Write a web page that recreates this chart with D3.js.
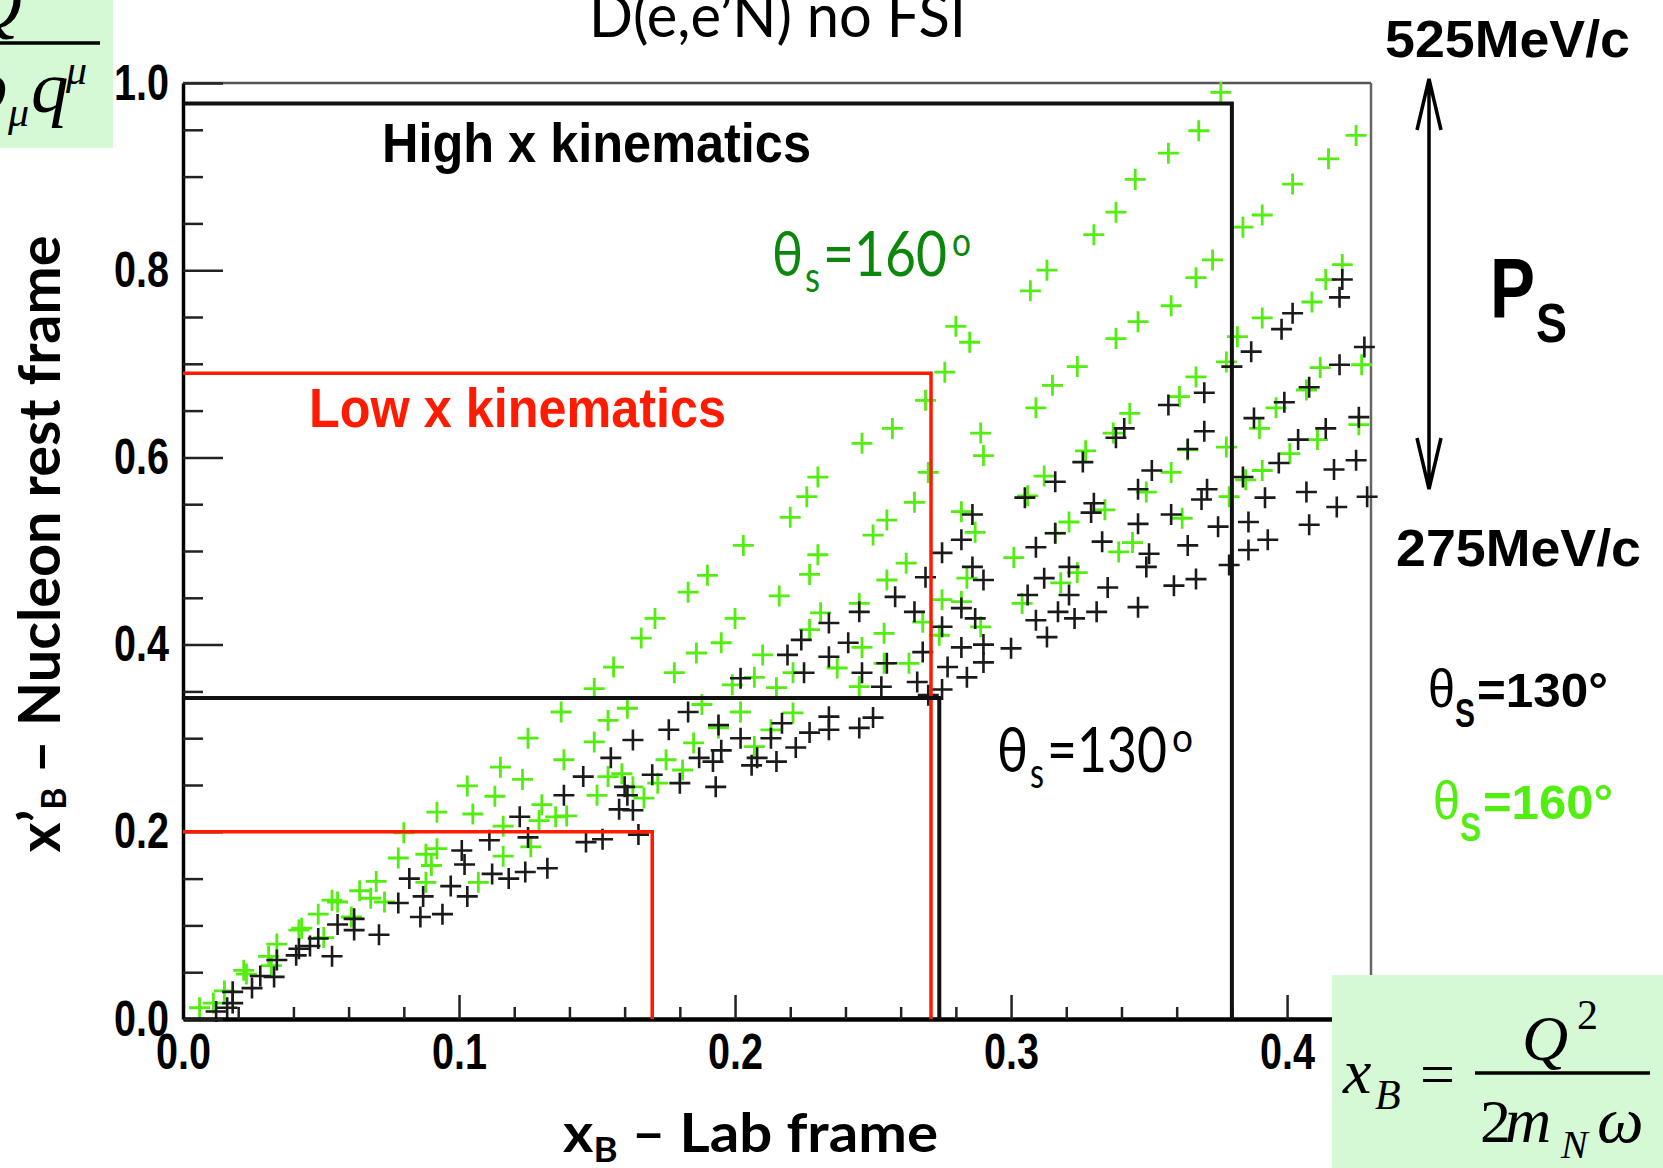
<!DOCTYPE html>
<html>
<head>
<meta charset="utf-8">
<script src="https://cdn.jsdelivr.net/npm/d3@7"></script>
<style>
  body { margin: 0; background: #fff; }
  svg { display: block; }
</style>
</head>
<body>
<div id="chart"></div>
<script>
// x'_B (nucleon rest frame) vs x_B (lab frame), D(e,e'N) no FSI
// tick values
const xMajor = [0, 0.1, 0.2, 0.3, 0.4];
const xMinor = [0.02, 0.04, 0.06, 0.08, 0.12, 0.14, 0.16, 0.18, 0.22, 0.24, 0.26, 0.28, 0.32, 0.34, 0.36, 0.38, 0.42];
const yMajor = [0, 0.2, 0.4, 0.6, 0.8, 1.0];
const yMinor = [0.05, 0.1, 0.15, 0.25, 0.3, 0.35, 0.45, 0.5, 0.55, 0.65, 0.7, 0.75, 0.85, 0.9, 0.95];

// kinematic cuts [x_B limit, x'_B limit]
const lowXCuts = [[0.17, 0.20], [0.271, 0.69]];
const highXCuts = [[0.274, 0.343], [0.38, 0.978]];

// theta_s = 130 deg (black crosses)
const theta130 = [
  [0.420,0.790],[0.419,0.771],[0.402,0.754],[0.398,0.737],[0.387,0.713],[0.380,0.697],[0.370,0.669],[0.357,0.656],
  [0.370,0.628],[0.341,0.631],[0.338,0.621],[0.326,0.595],[0.316,0.574],[0.305,0.557],[0.364,0.609],[0.351,0.586],
  [0.346,0.566],[0.330,0.551],[0.329,0.541],[0.371,0.566],[0.369,0.555],[0.358,0.539],[0.346,0.529],[0.333,0.510],
  [0.316,0.519],[0.309,0.504],[0.375,0.526],[0.364,0.506],[0.350,0.497],[0.349,0.483],[0.367,0.470],[0.359,0.463],
  [0.335,0.461],[0.321,0.483],[0.312,0.471],[0.286,0.539],[0.282,0.512],[0.290,0.469],
  [0.428,0.718],[0.419,0.699],[0.408,0.675],[0.399,0.659],[0.388,0.642],[0.414,0.631],[0.404,0.619],[0.397,0.594],
  [0.426,0.643],[0.425,0.597],[0.417,0.587],[0.407,0.563],[0.392,0.557],[0.384,0.579],[0.386,0.531],[0.429,0.558],
  [0.418,0.547],[0.408,0.528],[0.393,0.512],[0.386,0.501],[0.379,0.485],
  [0.275,0.498],[0.269,0.472],[0.286,0.483],[0.258,0.451],[0.306,0.453],[0.321,0.453],[0.331,0.435],[0.323,0.428],
  [0.317,0.435],[0.309,0.426],[0.313,0.408],[0.346,0.440],[0.282,0.439],[0.287,0.428],[0.282,0.397],[0.290,0.400],
  [0.290,0.381],[0.284,0.365],[0.300,0.396],[0.265,0.435],[0.275,0.419],[0.245,0.435],[0.234,0.423],[0.268,0.392],
  [0.277,0.376],[0.266,0.360],[0.275,0.352],[0.255,0.380],[0.241,0.402],[0.234,0.387],[0.224,0.405],[0.219,0.389],
  [0.202,0.364],[0.225,0.370],[0.246,0.370],[0.253,0.355],[0.250,0.322],[0.245,0.311],[0.234,0.323],[0.234,0.309],
  [0.227,0.306],[0.222,0.290],[0.217,0.316],[0.213,0.300],[0.215,0.275],[0.208,0.279],[0.206,0.271],[0.202,0.300],
  [0.195,0.287],[0.194,0.314],[0.192,0.275],[0.193,0.248],[0.187,0.279],[0.183,0.328],[0.176,0.309],[0.163,0.298],
  [0.155,0.279],[0.170,0.261],[0.180,0.252],[0.160,0.248],[0.145,0.259],[0.138,0.239],[0.122,0.216],[0.111,0.191],
  [0.125,0.194],[0.146,0.189],[0.152,0.192],[0.165,0.197],[0.158,0.224],[0.161,0.239],[0.163,0.223],[0.132,0.161],
  [0.124,0.157],[0.118,0.150],[0.112,0.155],[0.101,0.180],[0.102,0.165],[0.103,0.131],[0.097,0.142],[0.094,0.112],
  [0.086,0.109],[0.087,0.131],[0.082,0.150],[0.078,0.124],[0.071,0.090],[0.062,0.095],[0.054,0.067],[0.046,0.078],
  [0.033,0.045],[0.025,0.033],[0.018,0.017],[0.012,0.008],[0.041,0.068],[0.270,0.346],[0.016,0.012],
  [0.018,0.029],[0.028,0.046],[0.034,0.063],[0.042,0.075],[0.049,0.086],[0.056,0.101],[0.062,0.107]
];

// theta_s = 160 deg (green crosses)
const theta160 = [
  [0.376,0.990],[0.368,0.949],[0.357,0.925],[0.345,0.897],[0.338,0.862],[0.330,0.838],[0.313,0.800],[0.307,0.778],
  [0.285,0.723],[0.280,0.740],[0.276,0.691],[0.269,0.661],[0.257,0.631],[0.246,0.615],[0.230,0.579],[0.226,0.558],
  [0.220,0.536],[0.203,0.506],[0.190,0.474],[0.183,0.456],[0.171,0.428],[0.166,0.407],[0.156,0.376],[0.149,0.353],
  [0.137,0.328],[0.125,0.300],[0.115,0.269],[0.103,0.249],[0.092,0.221],[0.080,0.199],[0.078,0.172],[0.070,0.147],
  [0.054,0.127],[0.042,0.095],[0.031,0.067],[0.023,0.048],[0.015,0.030],[0.011,0.017],
  [0.425,0.944],[0.415,0.919],[0.402,0.892],[0.391,0.859],[0.384,0.846],
  [0.420,0.806],[0.414,0.790],[0.409,0.766],[0.391,0.749],[0.382,0.729],[0.373,0.811],[0.367,0.792],[0.358,0.762],
  [0.346,0.745],[0.338,0.727],[0.324,0.697],[0.315,0.677],[0.309,0.653],[0.289,0.626],[0.290,0.602],[0.270,0.584],
  [0.265,0.552],[0.255,0.533],[0.250,0.517],[0.230,0.496],[0.227,0.475],[0.216,0.452],[0.200,0.428],[0.195,0.402],
  [0.186,0.391],[0.178,0.370],
  [0.427,0.699],[0.412,0.696],[0.407,0.672],[0.396,0.653],[0.390,0.631],[0.378,0.702],[0.367,0.686],[0.361,0.665],
  [0.343,0.647],[0.337,0.626],[0.327,0.607],[0.312,0.580],[0.306,0.559],[0.282,0.542],[0.287,0.520],[0.262,0.487],
  [0.255,0.469],[0.245,0.444],[0.231,0.434],[0.227,0.416],[0.210,0.389],[0.207,0.365],[0.199,0.357],[0.188,0.336],
  [0.426,0.635],[0.411,0.619],[0.401,0.604],[0.391,0.586],[0.385,0.576],[0.378,0.611],[0.364,0.608],[0.358,0.584],
  [0.349,0.563],[0.334,0.544],[0.321,0.531],[0.316,0.519],[0.301,0.493],[0.362,0.535],[0.379,0.558],[0.344,0.509],
  [0.339,0.499],[0.284,0.471],[0.275,0.448],[0.268,0.424],[0.274,0.410],[0.289,0.419],[0.254,0.412],[0.246,0.397],
  [0.237,0.375],[0.254,0.380],[0.263,0.380],[0.245,0.355],[0.221,0.327],[0.221,0.370],[0.215,0.354],[0.213,0.309],
  [0.207,0.291],[0.202,0.328],[0.194,0.311],[0.185,0.295],[0.175,0.277],[0.181,0.266],[0.172,0.252],[0.163,0.248],
  [0.154,0.259],[0.161,0.332],[0.154,0.319],
  [0.324,0.477],[0.318,0.466],[0.304,0.444],[0.282,0.446],
  [0.149,0.296],[0.138,0.277],[0.123,0.256],[0.113,0.238],[0.105,0.219],[0.092,0.182],[0.090,0.164],[0.088,0.146],
  [0.068,0.129],[0.061,0.109],[0.051,0.087],[0.032,0.057],[0.130,0.229],[0.135,0.216],[0.139,0.217],[0.129,0.212],
  [0.150,0.239],[0.167,0.236],[0.116,0.206],[0.116,0.174],[0.107,0.146],[0.088,0.176],[0.073,0.125],[0.126,0.184],
  [0.159,0.262],[0.006,0.012],
  [0.022,0.052],[0.034,0.080],[0.043,0.097],[0.049,0.112],[0.056,0.125],[0.064,0.137]
];

const W = 1663, H = 1168;
const svg = d3.select("#chart").append("svg")
    .attr("width", W)
    .attr("height", H);
svg.append("rect").attr("width", W).attr("height", H).attr("fill", "#fff");

const x = d3.scaleLinear().domain([0, 0.4304]).range([183, 1371]);
const y = d3.scaleLinear().domain([0, 1]).range([1019, 83]);

// small helper for positioned text pieces
function txt(t, px, py, size, w, o = {}) {
  const el = svg.append("text")
      .attr("x", px).attr("y", py)
      .attr("font-family", o.family || "Liberation Sans")
      .attr("font-weight", o.weight || "bold")
      .attr("font-style", o.style || "normal")
      .attr("font-size", size)
      .attr("fill", o.fill || "#000")
      .text(t);
  if (w) el.attr("textLength", w).attr("lengthAdjust", "spacingAndGlyphs");
  return el;
}

// frame (top / right)
svg.append("line")
    .attr("x1", x(0)).attr("x2", x(0.4304)).attr("y1", y(1)).attr("y2", y(1))
    .attr("stroke", "#555").attr("stroke-width", 2.5);
svg.append("line")
    .attr("x1", x(0.4304)).attr("x2", x(0.4304)).attr("y1", y(1)).attr("y2", y(0))
    .attr("stroke", "#666").attr("stroke-width", 2.5);

// scatter crosses
const cross = d => `M${x(d[0]) - 10.5},${y(d[1])}h21M${x(d[0])},${y(d[1]) - 10.5}v21`;
svg.append("g").selectAll("path")
    .data(theta160)
    .join("path")
    .attr("d", cross)
    .attr("stroke", "#52ee10")
    .attr("stroke-width", 2.8)
    .attr("fill", "none");
svg.append("g").selectAll("path")
    .data(theta130)
    .join("path")
    .attr("d", cross)
    .attr("stroke", "#1a1a1a")
    .attr("stroke-width", 2.6)
    .attr("fill", "none");

// axes
const xAxisG = svg.append("g")
    .attr("transform", `translate(0,${y(0)})`)
    .call(d3.axisBottom(x).tickValues(xMajor).tickSize(-24).tickSizeOuter(0)
      .tickPadding(14).tickFormat(d3.format(".1f")));
svg.append("g")
    .attr("transform", `translate(0,${y(0)})`)
    .call(d3.axisBottom(x).tickValues(xMinor).tickSize(-12).tickSizeOuter(0).tickFormat(""))
    .call(g => g.select(".domain").remove());
xAxisG.select(".domain").attr("stroke", "#000").attr("stroke-width", 4.5);

const yAxisG = svg.append("g")
    .attr("transform", `translate(${x(0)},0)`)
    .call(d3.axisLeft(y).tickValues(yMajor).tickSize(-40).tickSizeOuter(0)
      .tickPadding(14).tickFormat(d3.format(".1f")));
svg.append("g")
    .attr("transform", `translate(${x(0)},0)`)
    .call(d3.axisLeft(y).tickValues(yMinor).tickSize(-20).tickSizeOuter(0).tickFormat(""))
    .call(g => g.select(".domain").remove());
yAxisG.select(".domain").attr("stroke", "#000").attr("stroke-width", 3.5);

svg.selectAll(".tick line").attr("stroke", "#222").attr("stroke-width", 2.5);
svg.selectAll(".tick text")
    .attr("font-family", "Liberation Sans")
    .attr("font-weight", "bold")
    .attr("font-size", 50)
    .attr("fill", "#000")
    .attr("textLength", 55)
    .attr("lengthAdjust", "spacingAndGlyphs");

// kinematic cut boxes
const cutPath = d => `M${x(0)},${y(d[1])}H${x(d[0])}V${y(0)}`;
svg.append("g").selectAll("path")
    .data(lowXCuts)
    .join("path")
    .attr("d", cutPath)
    .attr("fill", "none")
    .attr("stroke", "#ff1a00")
    .attr("stroke-width", 3.5);
svg.append("g").selectAll("path")
    .data(highXCuts)
    .join("path")
    .attr("d", cutPath)
    .attr("fill", "none")
    .attr("stroke", "#111")
    .attr("stroke-width", 4);

// in-plot labels
txt("High x kinematics", 382, 162, 56, 429);
txt("Low x kinematics", 309, 427, 56, 417, { fill: "#ff1a00" });

const dkGreen = "#0b870b";
txt("θ", 772, 276, 62, 31, { family: "Lato", weight: "normal", fill: dkGreen });
txt("s", 805, 292, 42, 15, { family: "Lato", weight: "normal", fill: dkGreen });
txt("=160", 823, 276, 62, 124, { family: "Lato", weight: "normal", fill: dkGreen });
txt("o", 952, 256, 40, 19, { family: "Lato", weight: "normal", fill: dkGreen });

txt("θ", 997, 772, 62, 31, { family: "Lato", weight: "normal" });
txt("s", 1030, 788, 42, 14, { family: "Lato", weight: "normal" });
txt("=130", 1047, 772, 62, 120, { family: "Lato", weight: "normal" });
txt("o", 1172, 752, 40, 21, { family: "Lato", weight: "normal" });

// title
txt("D(e,e’N) no FSI", 589, 37, 60, 377, { family: "Lato", weight: "normal" });

// axis titles
const yt = svg.append("text")
    .attr("transform", "translate(60,544) rotate(-90)")
    .attr("text-anchor", "middle")
    .attr("font-family", "Lato")
    .attr("font-weight", "bold")
    .attr("font-size", 58)
    .attr("textLength", 617)
    .attr("lengthAdjust", "spacingAndGlyphs");
yt.append("tspan").text("x’");
yt.append("tspan").attr("font-size", 34).attr("dy", 6).text("B");
yt.append("tspan").attr("dy", -6).text(" – Nucleon rest frame");

const xt = svg.append("text")
    .attr("x", 563).attr("y", 1152)
    .attr("font-family", "Lato")
    .attr("font-weight", "bold")
    .attr("font-size", 54)
    .attr("textLength", 375)
    .attr("lengthAdjust", "spacingAndGlyphs");
xt.append("tspan").text("x");
xt.append("tspan").attr("font-size", 34).attr("dy", 10).text("B");
xt.append("tspan").attr("dy", -10).text(" – Lab frame");

// right side: P_s range arrow and legend
txt("525MeV/c", 1385, 57, 52, 245);
txt("275MeV/c", 1396, 566, 52, 245);
svg.append("path")
    .attr("d", "M1429,82V486M1417,130L1429,79L1441,130M1417,438L1429,489L1441,438")
    .attr("fill", "none").attr("stroke", "#000").attr("stroke-width", 3.5);
txt("P", 1490, 318, 85, 45);
txt("S", 1536, 342, 56, 31);

txt("θ", 1428, 707, 54, 27, { weight: "normal" });
txt("S", 1455, 727, 40, 20);
txt("=130°", 1477, 707, 49, 131);
const ltGreen = "#52ee10";
txt("θ", 1433, 819, 54, 27, { weight: "normal", fill: ltGreen });
txt("S", 1460, 841, 40, 21, { fill: ltGreen });
txt("=160°", 1483, 819, 49, 130, { fill: ltGreen });

// formula boxes
const boxFill = "#d5f9d5";
const serif = { family: "Liberation Serif", weight: "normal", style: "italic" };
const serifUp = { family: "Liberation Serif", weight: "normal" };
svg.append("rect").attr("x", 0).attr("y", 0).attr("width", 113).attr("height", 148).attr("fill", boxFill);
txt("Q", -30, 28, 72, null, serif);
svg.append("line").attr("x1", 0).attr("x2", 100).attr("y1", 43).attr("y2", 43)
    .attr("stroke", "#000").attr("stroke-width", 3.5);
txt("p", -30, 112, 75, null, serif);
txt("μ", 8, 126, 42, null, serif);
txt("q", 31, 112, 75, null, serif);
txt("μ", 66, 84, 42, null, serif);

svg.append("rect").attr("x", 1332).attr("y", 975).attr("width", W - 1332).attr("height", H - 975).attr("fill", boxFill);
txt("x", 1343, 1093, 64, null, serif);
txt("B", 1375, 1109, 42, null, serif);
txt("=", 1420, 1095, 62, null, serifUp);
svg.append("line").attr("x1", 1475).attr("x2", 1650).attr("y1", 1073).attr("y2", 1073)
    .attr("stroke", "#000").attr("stroke-width", 3.5);
txt("Q", 1522, 1060, 64, null, serif);
txt("2", 1577, 1029, 42, null, serifUp);
txt("2", 1480, 1142, 62, null, serifUp);
txt("m", 1505, 1142, 64, null, serif);
txt("N", 1561, 1158, 40, null, serif);
txt("ω", 1597, 1142, 66, null, serif);
</script>
</body>
</html>
